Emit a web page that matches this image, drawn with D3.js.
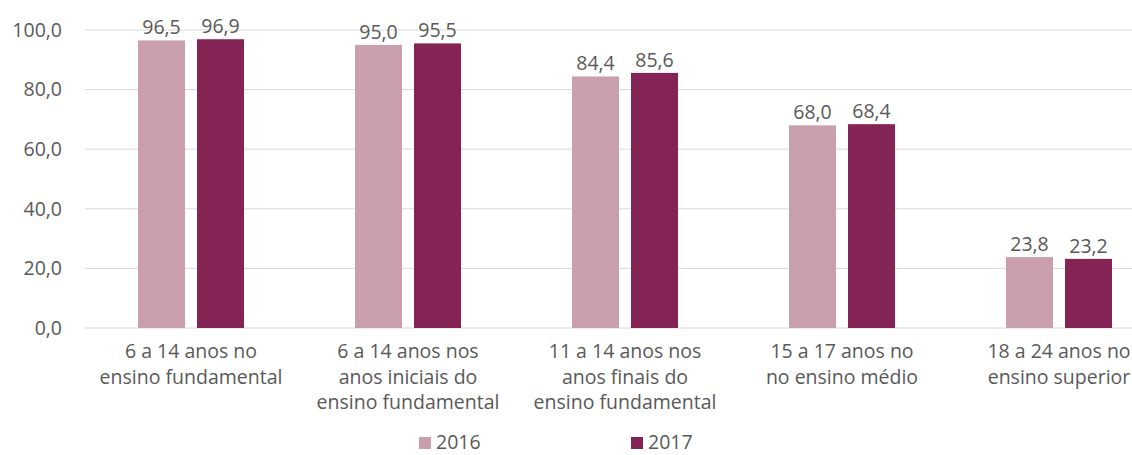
<!DOCTYPE html>
<html><head><meta charset="utf-8">
<script src="https://cdn.jsdelivr.net/npm/d3@7"></script>
<style>
body{margin:0;background:#fff;}
text{font-family:"Open Sans",sans-serif;fill:#595959;}
</style></head>
<body><svg id="c" width="1132" height="455"></svg>
<script>
const categories = [
  ["6 a 14 anos no","ensino fundamental"],
  ["6 a 14 anos nos","anos iniciais do","ensino fundamental"],
  ["11 a 14 anos nos","anos finais do","ensino fundamental"],
  ["15 a 17 anos no","no ensino médio"],
  ["18 a 24 anos no","ensino superior"]
];
const seriesNames = ["2016","2017"];
const values2016 = [96.5, 95.0, 84.4, 68.0, 23.8];
const values2017 = [96.9, 95.5, 85.6, 68.4, 23.2];
const yTicks = [0, 20, 40, 60, 80, 100];
const colors = ["#c99ead", "#842454"];

const svg = d3.select("#c");
const fmt = v => v.toFixed(1).replace(".", ",");
const catIdx = categories.map((c,i)=>i);
const FS = "19.5px";

const x0 = d3.scaleBand().domain(catIdx).range([82.5, 1167.5]).padding(0);
const groupW = 106;
const x1 = d3.scaleBand().domain(seriesNames)
  .range([(x0.bandwidth()-groupW)/2, (x0.bandwidth()+groupW)/2]).paddingInner(0.203);
const y = d3.scaleLinear().domain([0,100]).range([328, 30]);

// gridlines
svg.append("g").selectAll("line").data(yTicks).join("line")
  .attr("x1", 85).attr("x2", 1132)
  .attr("y1", d=>y(d)).attr("y2", d=>y(d))
  .attr("stroke", "#d9d9d9").attr("stroke-width", 1);

// y axis labels
const yAxis = d3.axisLeft(y).tickValues(yTicks).tickFormat(fmt).tickSize(0).tickPadding(0);
const ya = svg.append("g").attr("transform","translate(62,0)").call(yAxis);
ya.select(".domain").remove();
ya.selectAll("text").style("font-size",FS).attr("fill","#595959").attr("font-family","Open Sans");

const data = catIdx.map(i => [
  {s: seriesNames[0], v: values2016[i]},
  {s: seriesNames[1], v: values2017[i]}
]);

const groups = svg.append("g").selectAll("g").data(data).join("g")
  .attr("transform", (d,i)=>`translate(${x0(i)},0)`);

groups.selectAll("rect").data(d=>d).join("rect")
  .attr("x", d=>x1(d.s)).attr("width", x1.bandwidth())
  .attr("y", d=>y(d.v)).attr("height", d=>y(0)-y(d.v))
  .attr("fill", (d,i)=>colors[i]);

groups.selectAll("text.val").data(d=>d).join("text").attr("class","val")
  .attr("x", d=>x1(d.s)+x1.bandwidth()/2)
  .attr("y", d=>y(d.v)-6)
  .attr("text-anchor","middle").style("font-size",FS)
  .text(d=>fmt(d.v));

// category labels
const lab = svg.append("g").selectAll("text").data(categories).join("text")
  .attr("x", (d,i)=>x0(i)+x0.bandwidth()/2)
  .attr("y", 358)
  .attr("text-anchor","middle").style("font-size",FS);
lab.selectAll("tspan").data(d=>d).join("tspan")
  .attr("x", function(){return this.parentNode.getAttribute("x");})
  .attr("dy", (d,i)=> i===0 ? 0 : 25.5)
  .text(d=>d);

// legend
const legX = [419, 631];
const leg = svg.append("g").selectAll("g").data(seriesNames).join("g")
  .attr("transform",(d,i)=>`translate(${legX[i]},0)`);
leg.append("rect").attr("x",0).attr("y",437).attr("width",12).attr("height",12)
  .attr("fill",(d,i)=>colors[i]);
leg.append("text").attr("x",17).attr("y",449).style("font-size",FS).text(d=>d);
</script></body></html>
